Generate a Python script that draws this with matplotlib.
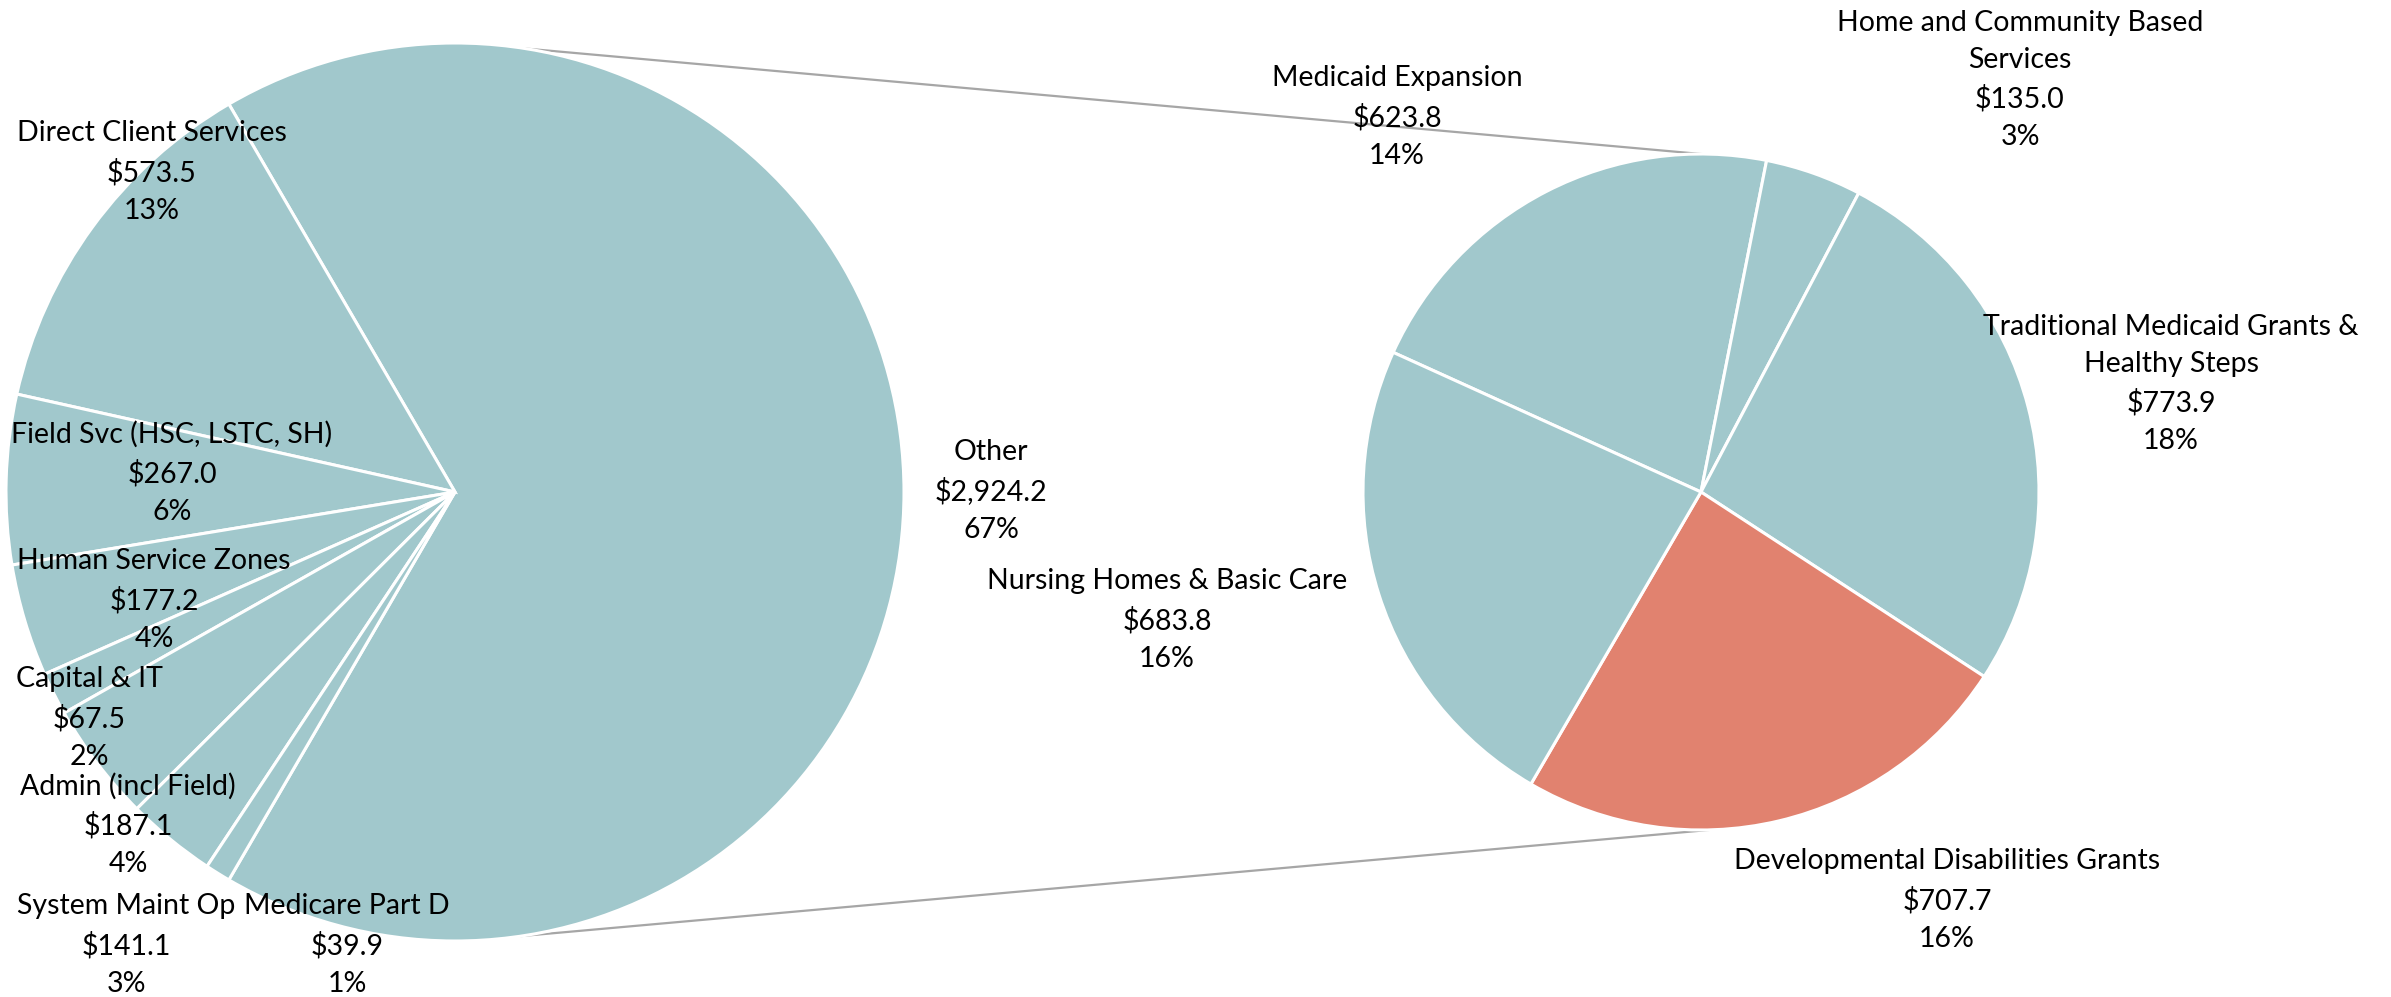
import numpy as np
import matplotlib
matplotlib.use("Agg")
import matplotlib.pyplot as plt

# left pie (whole budget), first slice is the "Other" bucket that gets broken out
left_names = ["Other", "Direct Client Services", "Field Svc (HSC, LSTC, SH)",
              "Human Service Zones", "Capital & IT", "Admin (incl Field)",
              "System Maint Op", "Medicare Part D"]
left_values = [2924.2, 573.5, 267.0, 177.2, 67.5, 187.1, 141.1, 39.9]

# right pie = breakdown of "Other"
right_names = ["Medicaid Expansion", "Home and Community Based\nServices",
               "Traditional Medicaid Grants &\nHealthy Steps",
               "Developmental Disabilities Grants", "Nursing Homes & Basic Care"]
right_values = [623.8, 135.0, 773.9, 707.7, 683.8]
right_colors = ["#A1C8CC", "#A1C8CC", "#A1C8CC", "#E1826F", "#A1C8CC"]

TEAL = "#A1C8CC"
W, H = 2391, 997

# label centres in pixel coords (x, y from top)
left_label_pos = [(991, 491), (152, 172), (172, 473), (154, 600),
                  (89, 718), (128, 825), (126, 945), (347, 945)]
right_label_pos = [(1397, 117), (2020, 80), (2171, 384), (1947, 900), (1167, 620)]

total = sum(left_values)

fig = plt.figure(figsize=(W / 100, H / 100), dpi=100)
ax = fig.add_axes([0, 0, 1, 1])

c1 = (455, H - 492)
r1 = 449
c2 = (1701, H - 492)
r2 = 338

other_frac = left_values[0] / total
ax.pie(left_values, colors=[TEAL] * len(left_values), center=c1, radius=r1,
       startangle=-other_frac * 180, counterclock=True,
       wedgeprops=dict(edgecolor="white", linewidth=2.2), frame=True)

ax.pie(right_values, colors=right_colors, center=c2, radius=r2,
       startangle=155.6, counterclock=False,
       wedgeprops=dict(edgecolor="white", linewidth=2.2), frame=True)

ax.set_xlim(0, W)
ax.set_ylim(0, H)
ax.set_aspect("equal")
ax.axis("off")

# connector lines
for a1, a2 in [(81, 90), (-81.5, -88.5)]:
    p1 = (c1[0] + r1 * np.cos(np.radians(a1)), c1[1] + r1 * np.sin(np.radians(a1)))
    p2 = (c2[0] + r2 * np.cos(np.radians(a2)), c2[1] + r2 * np.sin(np.radians(a2)))
    ax.plot([p1[0], p2[0]], [p1[1], p2[1]], color="#A6A6A6", lw=1.6, zorder=0)

font = ["Lato", "DejaVu Sans"]

def put_label(name, val, pos):
    txt = "%s\n$%s\n%d%%" % (name, format(val, ",.1f"), round(val / total * 100))
    ax.text(pos[0], H - pos[1], txt, ha="center", va="center", fontsize=20.5,
            family=font, linespacing=1.55, color="black")

for n, v, p in zip(left_names, left_values, left_label_pos):
    put_label(n, v, p)
for n, v, p in zip(right_names, right_values, right_label_pos):
    put_label(n, v, p)

fig.savefig("out.png", dpi=100, facecolor="white")
